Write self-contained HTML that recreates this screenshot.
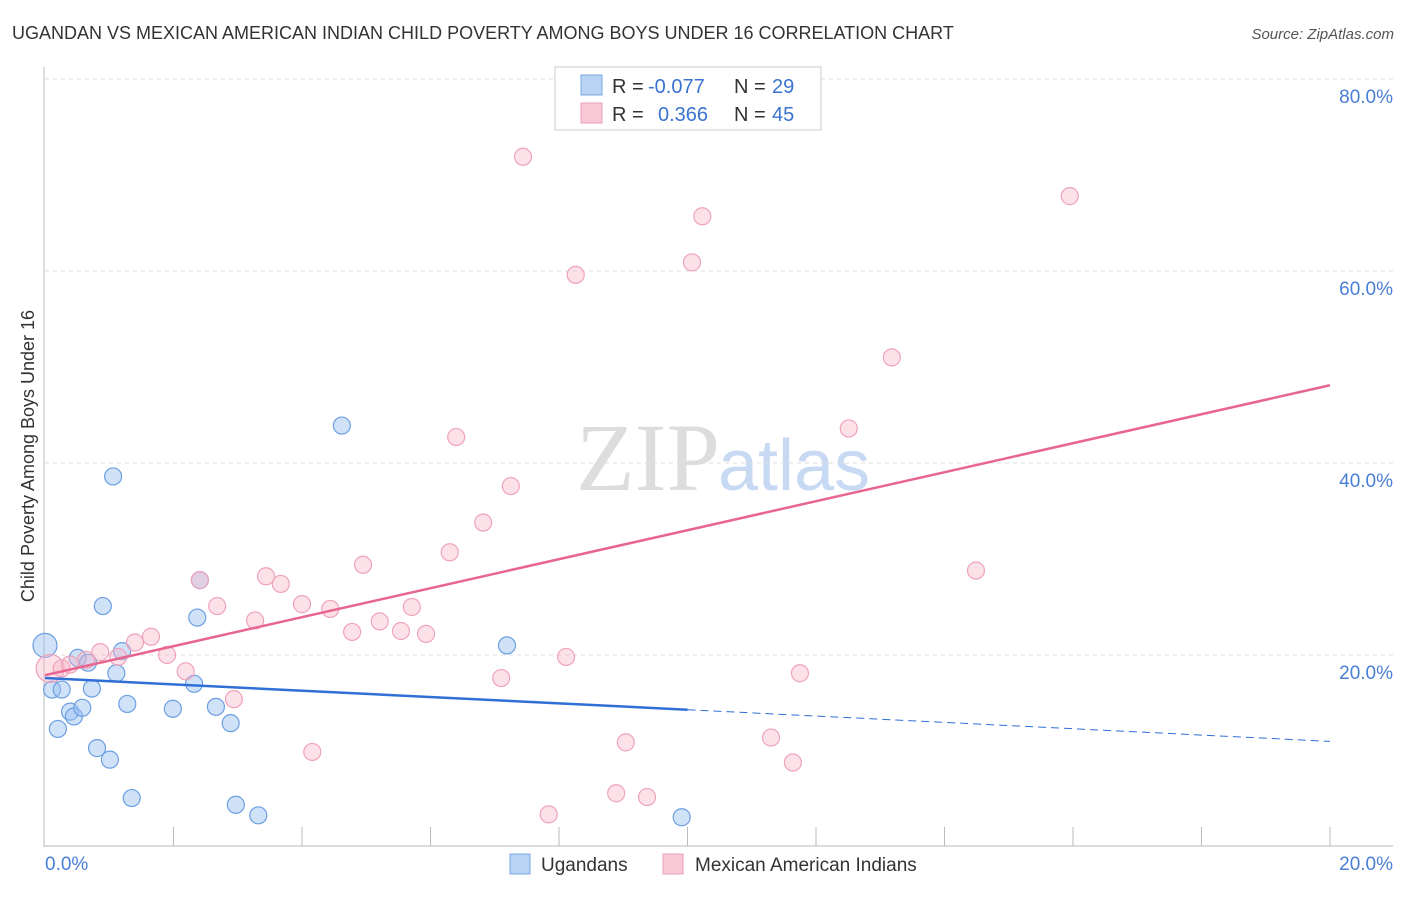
<!DOCTYPE html>
<html><head><meta charset="utf-8"><style>
body{margin:0;background:#fff;font-family:"Liberation Sans",sans-serif;}
</style></head><body>
<svg width="1406" height="892" xmlns="http://www.w3.org/2000/svg" style="font-family:'Liberation Sans',sans-serif">
<text x="12" y="39" font-size="18" fill="#333">UGANDAN VS MEXICAN AMERICAN INDIAN CHILD POVERTY AMONG BOYS UNDER 16 CORRELATION CHART</text>
<text x="1394" y="39" font-size="15" fill="#555" font-style="italic" text-anchor="end">Source: ZipAtlas.com</text>
<text x="720" y="490" font-size="96" fill="#ddd" font-family="Liberation Serif" text-anchor="end">ZIP</text>
<text x="718" y="490" font-size="72" fill="#c8daf3">atlas</text>
<g id="grid"></g>
<g id="axes"></g>
<g id="marks"></g>
<text transform="translate(34,456) rotate(-90)" font-size="18" fill="#333" text-anchor="middle">Child Poverty Among Boys Under 16</text>
<g>
<rect x="555" y="67" width="266" height="63" fill="#fff" stroke="#ccc"/>
<rect x="581" y="75" width="21" height="20" fill="#b9d3f5" stroke="#7aa7e4"/>
<text x="612" y="93" font-size="20" fill="#333">R = </text><text x="648" y="93" font-size="20" fill="#3a73d0">-0.077</text>
<text x="734" y="93" font-size="20" fill="#333">N = </text><text x="772" y="93" font-size="20" fill="#3a73d0">29</text>
<rect x="581" y="103" width="21" height="20" fill="#f9c9d8" stroke="#ee9fb8"/>
<text x="612" y="121" font-size="20" fill="#333">R = </text><text x="658" y="121" font-size="20" fill="#3a73d0">0.366</text>
<text x="734" y="121" font-size="20" fill="#333">N = </text><text x="772" y="121" font-size="20" fill="#3a73d0">45</text>
</g>
<g>
<rect x="510" y="854" width="20" height="20" fill="#b9d3f5" stroke="#7aa7e4"/>
<text x="541" y="871" font-size="19" fill="#333">Ugandans</text>
<rect x="663" y="854" width="20" height="20" fill="#f9c9d8" stroke="#ee9fb8"/>
<text x="695" y="871" font-size="19" fill="#333">Mexican American Indians</text>
</g>
</svg>
<script>
const yTicks=[20,40,60,80];
const yTickLabels=["20.0%","40.0%","60.0%","80.0%"];
const xTickLabels=["0.0%","20.0%"];
const blueX=[0,0.11,0.26,0.2,0.39,0.45,0.51,0.58,0.67,0.73,0.81,0.9,1.01,1.06,1.11,1.2,1.28,1.35,1.99,2.32,2.37,2.41,2.66,2.89,2.97,3.32,4.62,7.19,9.91];
const blueY=[21.0,16.4,16.4,12.3,14.1,13.6,19.7,14.5,19.2,16.5,10.3,25.1,9.1,38.6,18.1,20.4,14.9,5.1,14.4,17.0,23.9,27.8,14.6,12.9,4.4,3.3,43.9,21.0,3.1];
const pinkX=[0.08,0.26,0.39,0.64,0.86,1.14,1.4,1.65,1.9,2.19,2.41,2.68,2.94,3.27,3.44,3.67,4.0,4.16,4.44,4.78,4.95,5.21,5.54,5.71,5.93,6.3,6.4,6.82,7.1,7.25,7.44,7.84,8.11,8.26,8.89,9.04,9.37,10.07,10.23,11.3,11.64,11.75,12.51,13.18,14.49,15.95];
const pinkY=[18.6,18.6,19.0,19.5,20.3,19.8,21.3,21.9,20.0,18.3,27.8,25.1,15.4,23.6,28.2,27.4,25.3,9.9,24.8,22.4,29.4,23.5,22.5,25.0,22.2,30.7,42.7,33.8,17.6,37.6,71.9,3.4,19.8,59.6,5.6,10.9,5.2,60.9,65.7,11.4,8.8,18.1,43.6,51.0,28.8,67.8];
const blueTrend=[17.6,11.0];
const blueSolidEnd=10;
const pinkTrend=[17.9,48.1];
const NS="http://www.w3.org/2000/svg";
const sx=v=>45+v*64.25, sy=v=>847-v*9.6;
function mk(p,t,a){const e=document.createElementNS(NS,t);for(const k in a)e.setAttribute(k,a[k]);document.getElementById(p).appendChild(e);return e;}
yTicks.forEach((t,i)=>{
 const g=mk('grid','line',{x1:45,x2:1393,y1:sy(t),y2:sy(t),stroke:'#ddd','stroke-dasharray':'4,4'});
 
 
 const l=mk('grid','text',{x:1393,y:sy(t)+24,'font-size':19,fill:'#4a7fd6','text-anchor':'end'});
 l.textContent=yTickLabels[i];
 
 
});
let ax=mk('axes','line',{x1:44,x2:44,y1:67,y2:847,stroke:'#bbb'});


ax=mk('axes','line',{x1:44,x2:1393,y1:846,y2:846,stroke:'#bbb'});


for(let v=2;v<=20;v+=2){const t=mk('axes','line',{x1:sx(v),x2:sx(v),y1:827,y2:846,stroke:'#bbb'});
 
 }
[[0,'start',45],[20,'end',1393]].forEach((d,i)=>{const t=mk('axes','text',{x:d[2],y:870,'font-size':19,fill:'#4a7fd6','text-anchor':d[1]});t.textContent=xTickLabels[i];
 
 });
blueX.forEach((x,i)=>{const c=mk('marks','circle',{cx:sx(x),cy:sy(blueY[i]),r:i==0?12:8.5,fill:'rgba(150,190,240,0.45)',stroke:'#6c9fe2','stroke-width':1.2});
 
 });
pinkX.forEach((x,i)=>{const c=mk('marks','circle',{cx:sx(x),cy:sy(pinkY[i]),r:i==0?14:8.5,fill:'rgba(247,180,200,0.4)',stroke:'#efa3bb','stroke-width':1.2});
 
 });
const bAt=v=>blueTrend[0]+(blueTrend[1]-blueTrend[0])*v/20;
let tl=mk('marks','line',{x1:sx(0),y1:sy(bAt(0)),x2:sx(blueSolidEnd),y2:sy(bAt(blueSolidEnd)),stroke:'#2f6fd6','stroke-width':2.5});


tl=mk('marks','line',{x1:sx(blueSolidEnd),y1:sy(bAt(blueSolidEnd)),x2:sx(20),y2:sy(bAt(20)),stroke:'#2f6fd6','stroke-width':1,'stroke-dasharray':'8,5'});


tl=mk('marks','line',{x1:sx(0),y1:sy(pinkTrend[0]),x2:sx(20),y2:sy(pinkTrend[1]),stroke:'#e8658f','stroke-width':2.5});


</script>
</body></html>
